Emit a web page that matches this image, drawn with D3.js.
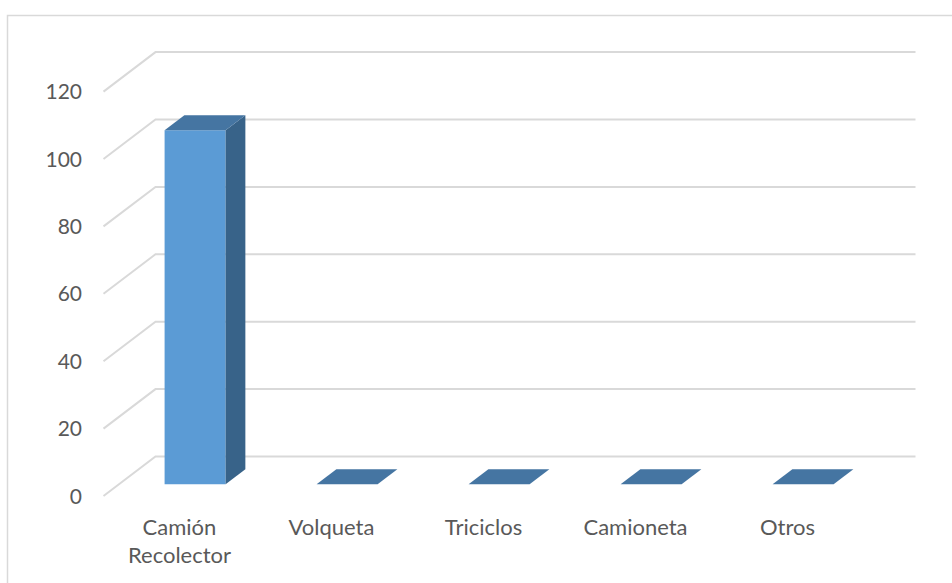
<!DOCTYPE html>
<html>
<head>
<meta charset="utf-8">
<script src="https://cdn.jsdelivr.net/npm/d3@7"></script>
<style>
  html, body { margin: 0; padding: 0; background: #ffffff; }
  svg { display: block; }
</style>
</head>
<body>
<svg id="chart" width="952" height="583"></svg>
<script>
// Vehicle counts by type
const categories = ["Camión Recolector", "Volqueta", "Triciclos", "Camioneta", "Otros"];
const values = [105, 0, 0, 0, 0];
const yTicks = [0, 20, 40, 60, 80, 100, 120];

const svg = d3.select("#chart");
const W = 952, H = 583;

// Chart area frame
svg.append("rect")
  .attr("x", 7.5).attr("y", 15.5)
  .attr("width", W + 10).attr("height", H + 10)
  .attr("fill", "none").attr("stroke", "#d9d9d9").attr("stroke-width", 1.5);

// Oblique 3D projection: the floor recedes up and to the right
const depthDx = 52, depthDy = 39.5;
const x = d3.scaleBand().domain(categories).range([103.5, 863.5]).paddingInner(0).paddingOuter(0);
const y = d3.scaleLinear().domain([0, 120]).range([496, 91.6]);
const proj = (px, py, z) => [px + z * depthDx, py - z * depthDy];

// Gridlines: diagonal on the side wall, horizontal on the back wall
const grid = svg.append("g").attr("fill", "none").attr("stroke", "#d9d9d9").attr("stroke-width", 2);
yTicks.forEach(v => {
  const a = proj(x.range()[0], y(v), 0);
  const b = proj(x.range()[0], y(v), 1);
  const c = proj(x.range()[1], y(v), 1);
  grid.append("path").attr("d", d3.line()([a, b, c]));
});

// Value axis labels
svg.append("g").selectAll("text").data(yTicks).join("text")
  .attr("x", 82).attr("y", d => y(d))
  .attr("dy", "0.36em")
  .attr("text-anchor", "end")
  .attr("font-family", "Lato, 'Open Sans', sans-serif")
  .attr("font-size", 21)
  .attr("fill", "#595959")
  .text(d => d);

// Columns as boxes in the middle of the depth
const zFront = 0.30, zBack = 0.68;
const barW = 61;
const bars = svg.append("g");
categories.forEach((cat, i) => {
  const v = values[i];
  const cx = x(cat) + x.bandwidth() / 2;
  const left = cx - barW / 2, right = cx + barW / 2;
  const yb = y(0), yt = y(v);
  const P = (px, py, z) => proj(px, py, z);
  const line = d3.line();
  if (v > 0) {
    // front face
    bars.append("path")
      .attr("d", line([P(left, yb, zFront), P(right, yb, zFront), P(right, yt, zFront), P(left, yt, zFront)]) + "Z")
      .attr("fill", "#5b9bd5");
    // side face
    bars.append("path")
      .attr("d", line([P(right, yb, zFront), P(right, yb, zBack), P(right, yt, zBack), P(right, yt, zFront)]) + "Z")
      .attr("fill", "#386389");
  }
  // top face
  bars.append("path")
    .attr("d", line([P(left, yt, zFront), P(right, yt, zFront), P(right, yt, zBack), P(left, yt, zBack)]) + "Z")
    .attr("fill", "#4575a2");
});

// Category labels
const labels = svg.append("g")
  .attr("font-family", "Lato, 'Open Sans', sans-serif")
  .attr("font-size", 22)
  .attr("fill", "#595959")
  .attr("text-anchor", "middle");
categories.forEach(cat => {
  const words = cat.split(" ");
  const t = labels.append("text")
    .attr("x", x(cat) + x.bandwidth() / 2)
    .attr("y", 535);
  words.forEach((w, k) => {
    t.append("tspan")
      .attr("x", x(cat) + x.bandwidth() / 2)
      .attr("dy", k === 0 ? 0 : 28)
      .text(w);
  });
});
</script>
</body>
</html>
